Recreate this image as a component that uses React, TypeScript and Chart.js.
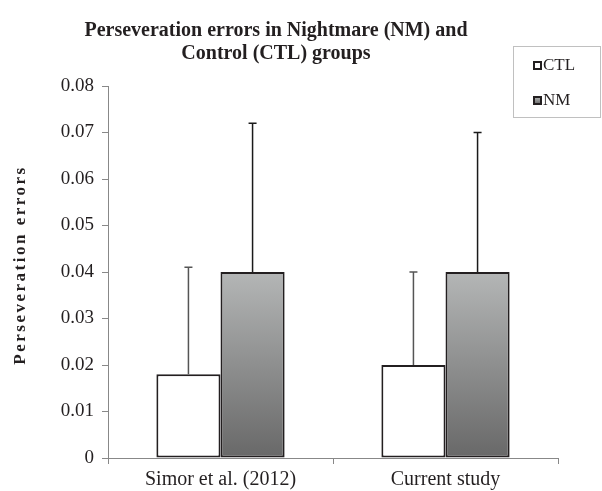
import React, { useEffect, useRef } from "react";
import { Chart, registerables } from "chart.js";

Chart.register(...registerables);

const categories = ["Simor et al. (2012)", "Current study"];
const ctlValues = [0.018, 0.02];
const nmValues = [0.04, 0.04];
const ctlErrors = [0.023, 0.02];
const nmErrors = [0.032, 0.03];
const yTicks = [0, 0.01, 0.02, 0.03, 0.04, 0.05, 0.06, 0.07, 0.08];
const titleLines = ["Perseveration errors in Nightmare (NM) and", "Control (CTL) groups"];
const yTitle = "Perseveration errors";
const legendLabels = ["CTL", "NM"];

const SERIF = "'Liberation Serif', 'Times New Roman', serif";

function nmGradient(c: CanvasRenderingContext2D, top: number, bottom: number) {
  const g = c.createLinearGradient(0, top, 0, bottom);
  g.addColorStop(0, "#b4b6b6");
  g.addColorStop(1, "#686868");
  return g;
}

const extrasPlugin = {
  id: "extras",
  afterDatasetsDraw(chart: any) {
    const c: CanvasRenderingContext2D = chart.ctx;
    const y = chart.scales.y;
    const errs = [ctlErrors, nmErrors];
    const cols = ["#555555", "#1a1a1a"];
    c.save();
    [0, 1].forEach((di) => {
      const meta = chart.getDatasetMeta(di);
      meta.data.forEach((bar: any, i: number) => {
        const v = chart.data.datasets[di].data[i];
        const top = y.getPixelForValue(v + errs[di][i]);
        const base = y.getPixelForValue(v);
        c.strokeStyle = cols[di];
        c.lineWidth = 1.5;
        c.beginPath();
        c.moveTo(bar.x, base);
        c.lineTo(bar.x, top);
        c.moveTo(bar.x - 4, top);
        c.lineTo(bar.x + 4, top);
        c.stroke();
      });
    });
    c.restore();
  },
  afterDraw(chart: any) {
    const c: CanvasRenderingContext2D = chart.ctx;
    c.save();
    // title
    c.fillStyle = "#231f20";
    c.font = `bold 20px ${SERIF}`;
    c.textAlign = "center";
    c.textBaseline = "alphabetic";
    c.fillText(titleLines[0], 276, 36);
    c.fillText(titleLines[1], 276, 59);
    // y title
    c.save();
    c.translate(21, 265);
    c.rotate(-Math.PI / 2);
    c.font = `bold 17px ${SERIF}`;
    c.textBaseline = "middle";
    (c as any).letterSpacing = "2.5px";
    c.fillText(yTitle, 0, 0);
    c.restore();
    // legend
    c.strokeStyle = "#c0c0c0";
    c.lineWidth = 1;
    c.strokeRect(513.5, 46.5, 87, 71);
    c.font = `17px ${SERIF}`;
    c.textAlign = "left";
    c.textBaseline = "alphabetic";
    c.fillStyle = "#231f20";
    c.fillText(legendLabels[0], 543, 70);
    c.fillText(legendLabels[1], 543, 105);
    c.lineWidth = 2;
    c.strokeStyle = "#231f20";
    c.fillStyle = "#ffffff";
    c.fillRect(534, 62, 7, 7);
    c.strokeRect(534, 62, 7, 7);
    c.fillStyle = nmGradient(c, 97, 104);
    c.fillRect(534, 97, 7, 7);
    c.strokeRect(534, 97, 7, 7);
    c.restore();
  },
};

export default function App() {
  const ref = useRef<HTMLCanvasElement>(null);
  useEffect(() => {
    document.body.style.margin = "0";
    const canvas = ref.current!;
    const chart = new Chart(canvas, {
      type: "bar",
      data: {
        labels: categories,
        datasets: [
          {
            label: legendLabels[0],
            data: ctlValues,
            backgroundColor: "#ffffff",
            borderColor: "#231f20",
            borderWidth: 2,
            borderSkipped: false,
            categoryPercentage: 0.57,
            barPercentage: 1.0,
          },
          {
            label: legendLabels[1],
            data: nmValues,
            backgroundColor: (ctx: any) => {
              const ch = ctx.chart;
              const ys = ch.scales && ch.scales.y;
              const val = nmValues[ctx.dataIndex];
              if (!ys || val == null) return "#888888";
              const t = ys.getPixelForValue(val);
              const b = ys.getPixelForValue(0);
              if (!isFinite(t) || !isFinite(b) || t === b) return "#888888";
              return nmGradient(ch.ctx, t, b);
            },
            borderColor: "#231f20",
            borderWidth: 2,
            borderSkipped: false,
            categoryPercentage: 0.57,
            barPercentage: 1.0,
          },
        ],
      },
      options: {
        responsive: false,
        animation: false,
        layout: { padding: { top: 86, right: 44, left: 0, bottom: 0 } },
        plugins: {
          legend: { display: false },
          title: { display: false },
          tooltip: { enabled: false },
        },
        scales: {
          x: {
            offset: true,
            grid: {
              offset: true,
              drawOnChartArea: false,
              drawTicks: true,
              tickLength: 6,
              color: "#888888",
            },
            border: { color: "#888888", width: 1 },
            ticks: {
              color: "#231f20",
              font: { family: SERIF, size: 20 },
              padding: 4,
            },
            afterFit(scale: any) {
              scale.height = 33;
            },
          } as any,
          y: {
            min: 0,
            max: 0.08,
            afterBuildTicks(scale: any) {
              scale.ticks = yTicks.map((v) => ({ value: v }));
            },
            grid: {
              drawOnChartArea: false,
              drawTicks: true,
              tickLength: 6,
              color: "#888888",
            },
            border: { color: "#888888", width: 1 },
            ticks: {
              color: "#231f20",
              font: { family: SERIF, size: 19 },
              padding: 8,
              callback: (v: any) => (v === 0 ? "0" : Number(v).toFixed(2)),
            },
            afterFit(scale: any) {
              scale.width = 108;
            },
          } as any,
        },
      },
      plugins: [extrasPlugin],
    } as any);
    return () => chart.destroy();
  }, []);
  return <canvas ref={ref} width={602} height={491} style={{ display: "block" }} />;
}
